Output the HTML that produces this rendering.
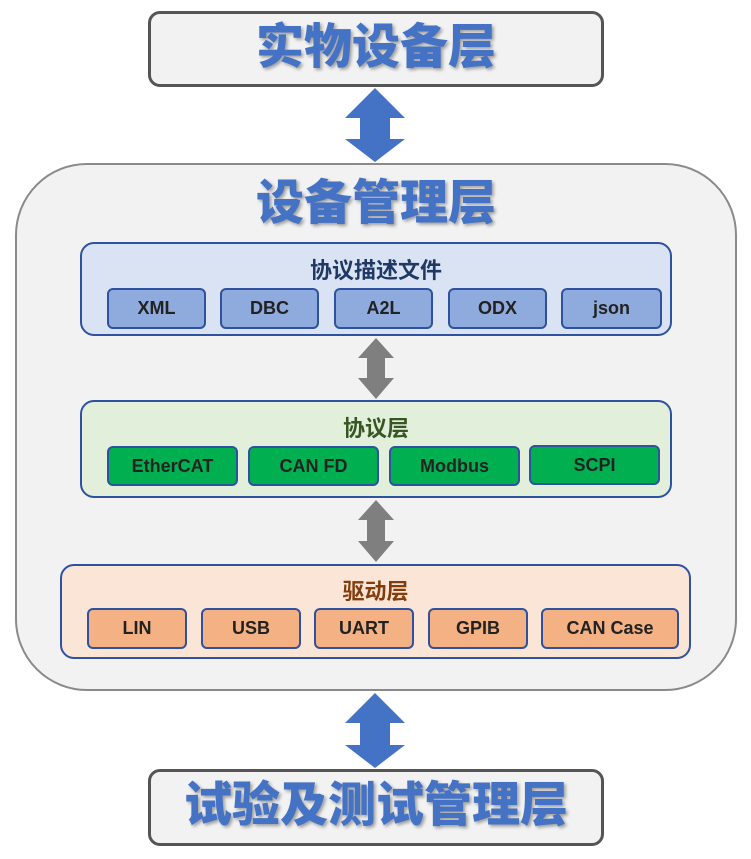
<!DOCTYPE html>
<html><head><meta charset="utf-8"><style>
body{margin:0;width:751px;height:859px;background:#fff;position:relative;overflow:hidden;font-family:"Liberation Sans","Noto Sans CJK SC",sans-serif}
.a{position:absolute;box-sizing:border-box}
.big{color:#4472c4;font-weight:900;text-align:center;text-shadow:2px 2px 3px rgba(0,0,0,.35)}
.btn{position:absolute;box-sizing:border-box;border:2px solid #2f52a0;border-radius:6px;display:flex;align-items:center;justify-content:center;font-size:18px;font-weight:bold;color:#222}
.t{position:absolute;left:0;right:0;text-align:center;font-weight:bold;font-size:22px}
</style></head><body>
<div class="a" style="left:148px;top:11px;width:456px;height:76px;border:3px solid #555;border-radius:12px;background:#f2f2f2"></div>
<div class="a big" style="left:148px;top:17px;width:456px;font-size:48px;line-height:62px">实物设备层</div>
<svg class="a" style="left:0;top:0" width="751" height="859">
<polygon points="375,88 405,118 390,118 390,139 405,139 375,162 345,139 360,139 360,118 345,118" fill="#4472c4"/>
<polygon points="375,693 405,723 390,723 390,745 405,745 375,768 345,745 360,745 360,723 345,723" fill="#4472c4"/>
</svg>
<div class="a" style="left:15px;top:163px;width:722px;height:528px;border:2px solid #8a8a8a;border-radius:72px;background:#f2f2f2"></div>
<div class="a big" style="left:15px;top:172px;width:722px;font-size:48px;line-height:64px">设备管理层</div>
<svg class="a" style="left:0;top:0" width="751" height="859">
<polygon points="376,338 394,358 385,358 385,378 394,378 376,399 358,378 367,378 367,358 358,358" fill="#7f7f7f"/>
<polygon points="376,500 394,520 385,520 385,541 394,541 376,562 358,541 367,541 367,520 358,520" fill="#7f7f7f"/>
</svg>
<div class="a" style="left:80px;top:242px;width:592px;height:94px;border:2px solid #2f52a0;border-radius:14px;background:#dae3f3">
<div class="t" style="top:9px;color:#1f3864">协议描述文件</div>
<div class="btn" style="left:25px;top:44px;width:99px;height:41px;background:#8faadc">XML</div>
<div class="btn" style="left:138px;top:44px;width:99px;height:41px;background:#8faadc">DBC</div>
<div class="btn" style="left:252px;top:44px;width:99px;height:41px;background:#8faadc">A2L</div>
<div class="btn" style="left:366px;top:44px;width:99px;height:41px;background:#8faadc">ODX</div>
<div class="btn" style="left:479px;top:44px;width:101px;height:41px;background:#8faadc">json</div>
</div>
<div class="a" style="left:80px;top:400px;width:592px;height:98px;border:2px solid #2f52a0;border-radius:14px;background:#e2efda">
<div class="t" style="top:9px;color:#375623">协议层</div>
<div class="btn" style="left:25px;top:44px;width:131px;height:40px;background:#00b050">EtherCAT</div>
<div class="btn" style="left:166px;top:44px;width:131px;height:40px;background:#00b050">CAN FD</div>
<div class="btn" style="left:307px;top:44px;width:131px;height:40px;background:#00b050">Modbus</div>
<div class="btn" style="left:447px;top:43px;width:131px;height:40px;background:#00b050">SCPI</div>
</div>
<div class="a" style="left:60px;top:564px;width:631px;height:95px;border:2px solid #2f52a0;border-radius:14px;background:#fbe5d6">
<div class="t" style="top:8px;color:#843c0c">驱动层</div>
<div class="btn" style="left:25px;top:42px;width:100px;height:41px;background:#f4b183">LIN</div>
<div class="btn" style="left:139px;top:42px;width:100px;height:41px;background:#f4b183">USB</div>
<div class="btn" style="left:252px;top:42px;width:100px;height:41px;background:#f4b183">UART</div>
<div class="btn" style="left:366px;top:42px;width:100px;height:41px;background:#f4b183">GPIB</div>
<div class="btn" style="left:479px;top:42px;width:138px;height:41px;background:#f4b183">CAN Case</div>
</div>
<div class="a" style="left:148px;top:769px;width:456px;height:77px;border:3px solid #555;border-radius:12px;background:#f2f2f2"></div>
<div class="a big" style="left:148px;top:775px;width:456px;font-size:48px;line-height:62px">试验及测试管理层</div>
</body></html>
